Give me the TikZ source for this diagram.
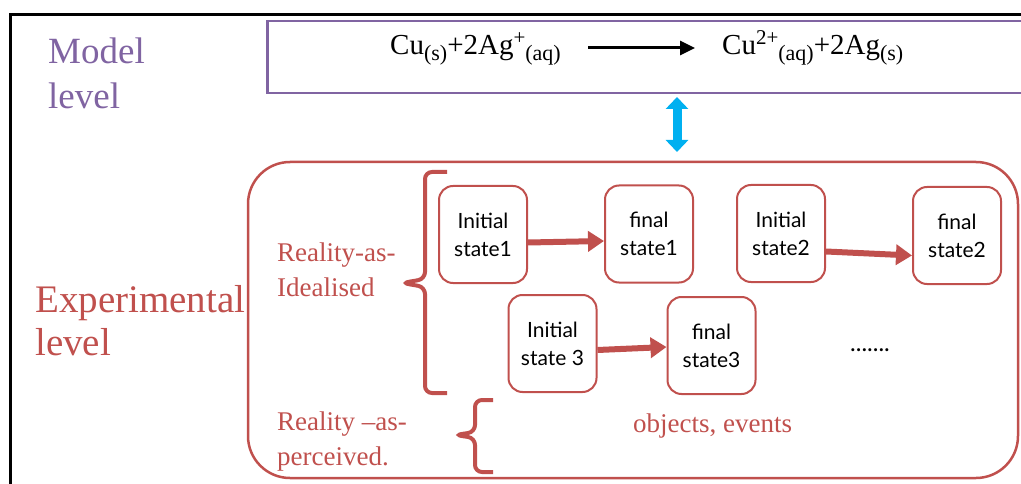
\documentclass[tikz,border=0pt]{standalone}
\usepackage{fontspec}
\setmainfont{Liberation Serif}
\newfontfamily\boxfont{Lato}
\usetikzlibrary{arrows.meta,calc}
\definecolor{modelpurple}{HTML}{8064A2}
\definecolor{exred}{HTML}{C0504D}
\definecolor{linkblue}{HTML}{00B0F0}
\newcommand\chemlo[1]{\raisebox{-6pt}{\fontsize{22}{22}\selectfont #1}}
\newcommand\chemhi[1]{\raisebox{10pt}{\fontsize{21}{21}\selectfont #1}}
\begin{document}
\begin{tikzpicture}[x=1pt,y=-1pt,
  statebox/.style={draw=exred, line width=2pt, rounded corners=14pt, minimum width=88pt, minimum height=97pt, align=center, inner sep=0pt, font=\boxfont\fontsize{21}{28}\selectfont},
  steparrow/.style={exred, line width=6pt, -{Triangle[length=16pt,width=20pt]}},
  bracepath/.style={exred, line width=4pt, rounded corners=7pt},
  reallabel/.style={text=exred, anchor=north west, align=left, inner sep=0pt, font=\fontsize{27}{35}\selectfont},
  eqtext/.style={anchor=base west, inner sep=0pt, font=\fontsize{29}{32}\selectfont}]
\useasboundingbox (0,0) rectangle (1021,484);
\clip (0,0) rectangle (1021,484);
% outer frame
\draw[line width=3pt] (10,490) -- (10,15) -- (1030,15);
% model level
\node[draw=modelpurple, line width=2.5pt, anchor=north west, minimum width=780pt, minimum height=72pt, inner sep=0pt] (modelbox) at (266,20) {};
\node[text=modelpurple, anchor=north west, align=left, inner sep=0pt, font=\fontsize{37}{45}\selectfont] (modellabel) at (48,38) {Model\\level};
\node[eqtext] (eqL) at (390,55) {Cu\chemlo{(s)}+2Ag\chemhi{+}\chemlo{(aq)}};
\node[eqtext] (eqR) at (722,55) {Cu\chemhi{2+}\chemlo{(aq)}+2Ag\chemlo{(s)}};
\coordinate (rxS) at (588,48);
\coordinate (rxE) at (695,48);
\draw[line width=3pt, -{Triangle[length=15pt,width=14pt]}] (rxS) -- (rxE);
% link arrow
\coordinate (linkTop) at (677,97);
\coordinate (linkBot) at (677,152);
\draw[linkblue, line width=9pt, {Triangle[length=12pt,width=22pt]}-{Triangle[length=12pt,width=22pt]}] (linkTop) -- (linkBot);
% experimental level
\node[draw=exred, line width=2.5pt, rounded corners=42pt, minimum width=770pt, minimum height=316pt, inner sep=0pt] (expbox) at (633,320) {};
\node[text=exred, anchor=north west, align=left, inner sep=0pt, font=\fontsize{39}{43}\selectfont] (explabel) at (35,285) {Experimental\\level};
\node[reallabel] (idealised) at (277,243) {Reality-as-\\Idealised};
\node[reallabel] (perceived) at (277,412) {Reality –as-\\perceived.};
\node[text=exred, anchor=base west, inner sep=0pt, font=\fontsize{27}{32}\selectfont] (objects) at (633,432) {objects, events};
% braces
\draw[bracepath] (447,172) -- (425,172) -- (425,279) -- (402,283) -- (425,287) -- (425,393) -- (447,393);
\draw[bracepath] (493,400) -- (475,400) -- (475,432) -- (455,435) -- (475,438) -- (475,472) -- (493,472);
% states
\node[statebox] (I1) at (483,234.5) {Initial\\state1};
\node[statebox] (F1) at (649,234) {final\\state1};
\node[statebox] (I2) at (781,233.5) {Initial\\state2};
\node[statebox] (F2) at (957,235.5) {final\\state2};
\node[statebox] (I3) at (552.5,343.5) {Initial\\state 3};
\node[statebox] (F3) at (711.5,345.5) {final\\state3};
\node[anchor=base west, inner sep=0pt, font=\boxfont\fontsize{24}{28}\selectfont] (dots) at (850,351) {.......};
\draw[steparrow] ($(I1.east)+(0,8)$) -- ($(F1.west)+(0,7)$);
\draw[steparrow] ($(I2.east)+(0,18)$) -- ($(F2.west)+(0,20)$);
\draw[steparrow] ($(I3.east)+(0,6.5)$) -- ($(F3.west)+(0,1.5)$);
\end{tikzpicture}
\end{document}
